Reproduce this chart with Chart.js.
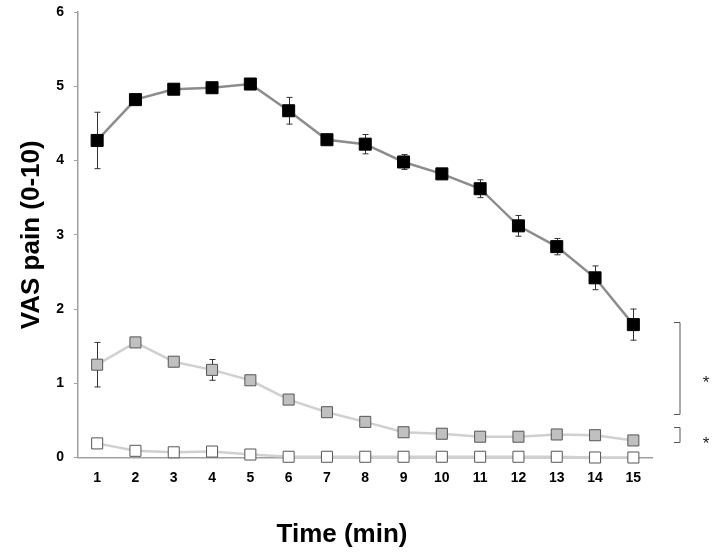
<!DOCTYPE html>
<html>
<head>
<meta charset="utf-8">
<script src="https://cdn.jsdelivr.net/npm/chart.js@4.4.1/dist/chart.umd.min.js"></script>
<style>
  html, body { margin: 0; padding: 0; background: #fff; }
  #wrap { width: 714px; height: 553px; }
</style>
</head>
<body>
<div id="wrap"><canvas id="vasChart" width="714" height="553"></canvas></div>
<script>
// minutos
const minutes = ["1", "2", "3", "4", "5", "6", "7", "8", "9", "10", "11", "12", "13", "14", "15"];

// série preta
const blackVals = [4.27, 4.82, 4.96, 4.98, 5.03, 4.67, 4.28, 4.22, 3.98, 3.82, 3.62, 3.12, 2.84, 2.42, 1.79];
const blackErr  = [0.38, 0.03, 0.02, 0.02, 0.02, 0.18, 0.03, 0.13, 0.10, 0.03, 0.12, 0.14, 0.11, 0.16, 0.21];

// série cinza
const grayVals = [1.25, 1.55, 1.29, 1.18, 1.04, 0.78, 0.61, 0.48, 0.34, 0.32, 0.28, 0.28, 0.31, 0.30, 0.23];
const grayErr  = [0.30, 0.03, 0.02, 0.14, 0.02, 0.02, 0.02, 0.02, 0.02, 0.02, 0.02, 0.02, 0.02, 0.02, 0.02];

// série branca
const whiteVals = [0.19, 0.09, 0.07, 0.08, 0.04, 0.01, 0.01, 0.01, 0.01, 0.01, 0.01, 0.01, 0.01, 0.0, 0.0];

// colchetes de significância: [topo, base, altura do asterisco] em unidades do eixo y
const brackets = [[1.82, 0.58, 1.07], [0.41, 0.21, 0.25]];
const yTicks = [0, 1, 2, 3, 4, 5, 6];
const xTitle = "Time (min)";

const FONT = "Arial, 'Liberation Sans', sans-serif";

const errorBars = {
  id: "errorBars",
  beforeDatasetsDraw(chart) {
    const { ctx, scales: { x, y } } = chart;
    const sets = [[blackVals, blackErr], [grayVals, grayErr]];
    ctx.save();
    ctx.strokeStyle = "#333";
    ctx.lineWidth = 1;
    sets.forEach(([vals, errs]) => {
      vals.forEach((v, i) => {
        const px = Math.round(x.getPixelForValue(i)) + 0.5;
        const top = y.getPixelForValue(v + errs[i]);
        const bot = y.getPixelForValue(v - errs[i]);
        ctx.beginPath();
        ctx.moveTo(px, top); ctx.lineTo(px, bot);
        ctx.moveTo(px - 3, top); ctx.lineTo(px + 3, top);
        ctx.moveTo(px - 3, bot); ctx.lineTo(px + 3, bot);
        ctx.stroke();
      });
    });
    ctx.restore();
  }
};

// colchetes, asteriscos e título do eixo x
const extras = {
  id: "extras",
  afterDraw(chart) {
    const { ctx, chartArea, scales: { y } } = chart;
    const bx = chartArea.right + 27.5;
    ctx.save();
    ctx.strokeStyle = "#555";
    ctx.lineWidth = 1;
    ctx.fillStyle = "#222";
    ctx.font = "17px " + FONT;
    ctx.textAlign = "center";
    ctx.textBaseline = "alphabetic";
    brackets.forEach(([hi, lo, star]) => {
      const t = Math.round(y.getPixelForValue(hi)) + 0.5;
      const b = Math.round(y.getPixelForValue(lo)) + 0.5;
      ctx.beginPath();
      ctx.moveTo(bx - 6, t); ctx.lineTo(bx, t); ctx.lineTo(bx, b); ctx.lineTo(bx - 6, b);
      ctx.stroke();
      ctx.fillText("*", bx + 26, y.getPixelForValue(star) + 10);
    });

    ctx.fillStyle = "#000";
    ctx.font = "bold 26px " + FONT;
    ctx.fillText(xTitle, 342, 542);
    ctx.restore();
  }
};

new Chart(document.getElementById("vasChart"), {
  type: "line",
  data: {
    labels: minutes,
    datasets: [
      {
        data: blackVals,
        borderColor: "#8c8c8c",
        borderWidth: 2.5,
        pointStyle: "rect",
        pointRadius: 8.5,
        pointBackgroundColor: "#000",
        pointBorderColor: "#000",
        pointBorderWidth: 1,
        clip: false
      },
      {
        data: grayVals,
        borderColor: "#d0d0d0",
        borderWidth: 2.5,
        pointStyle: "rect",
        pointRadius: 7.8,
        pointBackgroundColor: "#c0c0c0",
        pointBorderColor: "#555",
        pointBorderWidth: 1,
        clip: false
      },
      {
        data: whiteVals,
        borderColor: "#d0d0d0",
        borderWidth: 2.5,
        pointStyle: "rect",
        pointRadius: 7.8,
        pointBackgroundColor: "#fff",
        pointBorderColor: "#555",
        pointBorderWidth: 1,
        clip: false
      }
    ]
  },
  options: {
    responsive: false,
    animation: false,
    events: [],
    layout: { padding: { left: 0, right: 61.5, top: 12, bottom: 0 } },
    plugins: {
      legend: { display: false },
      tooltip: { enabled: false }
    },
    scales: {
      x: {
        type: "category",
        offset: true,
        afterFit(scale) { scale.height = 95.5; },
        border: { display: true, color: "#a0a0a0", width: 1.5 },
        grid: { display: true, drawOnChartArea: false, drawTicks: false },
        ticks: {
          color: "#000",
          padding: 12,
          maxRotation: 0,
          font: { family: FONT, size: 14, weight: "bold" }
        }
      },
      y: {
        min: 0,
        max: 6,
        afterFit(scale) {
          scale.width = 78;
          scale.paddingTop = 0;
          scale.paddingBottom = 0;
        },
        afterBuildTicks(scale) { scale.ticks = yTicks.map(v => ({ value: v })); },
        border: { display: true, color: "#a0a0a0", width: 1.5 },
        grid: { display: true, drawOnChartArea: false, drawTicks: true, tickLength: 4, color: "#a0a0a0" },
        ticks: {
          color: "#000",
          padding: 10,
          font: { family: FONT, size: 14, weight: "bold" }
        },
        title: {
          display: true,
          text: "VAS pain (0-10)",
          color: "#000",
          padding: { top: 16.4, bottom: 0 },
          font: { family: FONT, size: 26, weight: "bold" }
        }
      }
    }
  },
  plugins: [errorBars, extras]
});
</script>
</body>
</html>
